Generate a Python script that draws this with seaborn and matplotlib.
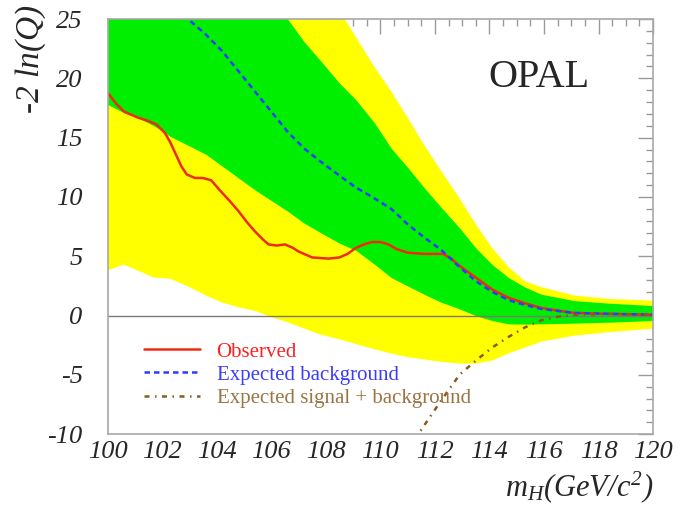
import numpy as np
import matplotlib
matplotlib.use("Agg")
import matplotlib.pyplot as plt
from matplotlib.ticker import MultipleLocator
import seaborn as sns

# bands: common mass grid, 1 sigma (green) and 2 sigma (yellow) edges
band_x = [100, 100.6, 101.1, 101.7, 102.3, 103.0, 103.6, 104.2, 104.8, 105.4,
          106.0, 106.6, 107.2, 107.8, 108.5, 109.1, 109.8, 110.4, 111.0, 111.6,
          112.2, 112.9, 113.5, 114.1, 114.7, 115.3, 115.9, 117.1, 118.4, 120]
green_hi = [40, 39, 38, 36.5, 35, 33, 31.5, 30, 29, 28,
            26.8, 25.0, 23.1, 21.5, 19.6, 18.2, 16.2, 14.1, 12.5, 10.8,
            9.2, 7.4, 5.7, 4.3, 3.2, 2.4, 1.8, 1.26, 1.04, 0.84]
green_lo = [17.8, 17.1, 16.7, 16.0, 15.1, 14.3, 13.6, 12.6, 11.6, 10.6,
            9.7, 8.8, 7.8, 7.0, 6.1, 5.5, 4.3, 3.2, 2.5, 1.8,
            1.15, 0.56, 0.0, -0.42, -0.7, -0.72, -0.7, -0.64, -0.56, -0.42]
yellow_hi = [54, 52, 50, 48, 46, 44, 42, 40, 38, 36,
             34, 32, 30, 28, 25.7, 23.5, 20.9, 18.9, 16.7, 14.4,
             12.3, 9.9, 7.7, 5.7, 4.1, 2.9, 2.4, 1.7, 1.4, 1.26]
yellow_lo = [3.8, 4.3, 3.8, 3.2, 3.1, 2.4, 1.7, 1.1, 0.7, 0.4,
             -0.14, -0.56, -1.1, -1.6, -2.0, -2.4, -2.85, -3.2, -3.5, -3.7,
             -3.9, -4.05, -4.05, -3.8, -3.2, -2.7, -2.2, -1.7, -1.4, -1.1]

# observed
obs_x = [100, 100.3, 100.6, 101.1, 101.5, 101.8, 102.1, 102.3, 102.5, 102.7,
         102.9, 103.2, 103.5, 103.8, 104.1, 104.5, 104.8, 105.1, 105.4, 105.7,
         105.9, 106.2, 106.5, 106.8, 107.0, 107.5, 108.1, 108.5, 108.8, 109.1,
         109.4, 109.7, 110.0, 110.3, 110.6, 111.0, 111.6, 112.3, 112.6, 112.9,
         113.5, 114.1, 114.7, 115.3, 115.9, 116.5, 117.1, 118.4, 120]
obs_y = [18.8, 17.9, 17.2, 16.7, 16.4, 16.1, 15.4, 14.6, 13.6, 12.6,
         11.9, 11.6, 11.6, 11.4, 10.6, 9.6, 8.8, 7.9, 7.1, 6.4,
         6.0, 5.9, 6.0, 5.7, 5.4, 4.9, 4.8, 4.9, 5.2, 5.7,
         6.0, 6.2, 6.2, 6.0, 5.6, 5.3, 5.2, 5.2, 4.8, 4.2,
         3.2, 2.2, 1.5, 1.04, 0.64, 0.42, 0.22, 0.14, 0.06]

# expected background
bkg_x = [102.8, 103.0, 103.6, 104.2, 104.8, 105.4, 106.0, 106.6, 107.2, 107.8,
         108.5, 109.1, 109.7, 110.4, 111.0, 111.6, 112.2, 112.9, 113.5, 114.1,
         114.7, 115.3, 115.9, 117.1, 118.4, 120]
bkg_y = [25.4, 24.9, 23.7, 22.3, 20.6, 18.9, 17.2, 15.5, 14.1, 13.0,
         11.8, 10.8, 10.0, 9.0, 7.7, 6.6, 5.6, 4.1, 2.9, 2.0,
         1.3, 0.9, 0.56, 0.22, 0.14, 0.08]

# expected signal + background
sb_x = [111.3, 111.45, 112.25, 112.9, 113.5, 114.1, 114.7, 115.3, 115.9, 116.5,
        117.1, 118.4, 120]
sb_y = [-10.5, -9.8, -7.1, -5.0, -3.8, -2.7, -1.8, -1.0, -0.4, -0.1,
        0.05, 0.14, 0.08]

labels = ["Observed", "Expected background", "Expected signal + background"]
line_colors = ["#f02a10", "#2a3cff", "#8b5a22"]
text_colors = ["#ff2020", "#3c3cff", "#9a7443"]

sns.set_style("white")
plt.rcParams["font.family"] = ["Liberation Serif", "DejaVu Serif"]
plt.rcParams["font.style"] = "italic"
plt.rcParams["axes.unicode_minus"] = False
plt.rcParams["mathtext.fontset"] = "custom"
plt.rcParams["mathtext.rm"] = "Liberation Serif:italic"
plt.rcParams["mathtext.it"] = "Liberation Serif:italic"

fig = plt.figure(figsize=(6.81, 5.15), dpi=100)
ax = fig.add_axes([0.158, 0.157, 0.801, 0.806])

ax.fill_between(band_x, yellow_lo, yellow_hi, color="#ffff00", lw=0)
ax.fill_between(band_x, green_lo, green_hi, color="#00ee00", lw=0)
ax.axhline(0, color="#7a7a7a", lw=1)

sns.lineplot(x=obs_x, y=obs_y, ax=ax, color=line_colors[0], lw=1.8,
             estimator=None, label=labels[0])
sns.lineplot(x=bkg_x, y=bkg_y, ax=ax, color=line_colors[1], lw=1.8,
             estimator=None, label=labels[1])
ax.lines[-1].set_dashes([2.2, 1.6])
sns.lineplot(x=sb_x, y=sb_y, ax=ax, color=line_colors[2], lw=1.8,
             estimator=None, label=labels[2])
ax.lines[-1].set_dashes([2.0, 2.2, 0.6, 2.2])

ax.set_xlim(100, 120)
ax.set_ylim(-10, 25)
ax.xaxis.set_major_locator(MultipleLocator(2))
ax.xaxis.set_minor_locator(MultipleLocator(0.5))
ax.yaxis.set_major_locator(MultipleLocator(5))
ax.yaxis.set_minor_locator(MultipleLocator(1))
ax.tick_params(which="both", direction="in", top=True, right=True,
               color="#9a9a9a", width=1, labelsize=19)
ax.tick_params(which="major", length=11)
ax.tick_params(which="minor", length=5)
ax.tick_params(axis="x", which="major", pad=5)
ax.tick_params(axis="y", which="major", pad=18)
for sp in ax.spines.values():
    sp.set_color("#a8a8a8")
    sp.set_linewidth(1.2)

ax.set_ylabel("-2 $ln(Q)$", fontsize=24, loc="top")
ax.yaxis.set_label_coords(-0.11, 1.035)
ax.set_xlabel("$m_{H}(GeV/c^{2})$", fontsize=22, loc="right")
ax.xaxis.set_label_coords(1.0, -0.085)

ax.text(0.79, 0.86, "OPAL", transform=ax.transAxes, fontsize=29,
        style="normal", ha="center", va="center")

leg = ax.legend(loc="upper left", bbox_to_anchor=(0.066, 0.222), frameon=False,
                prop={"family": "Liberation Serif", "style": "normal", "size": 15},
                handlelength=2.7, handletextpad=0.8,
                labelspacing=0.17, borderpad=0, borderaxespad=0)
for txt, c in zip(leg.get_texts(), text_colors):
    txt.set_color(c)

fig.savefig("out.png", dpi=100)
